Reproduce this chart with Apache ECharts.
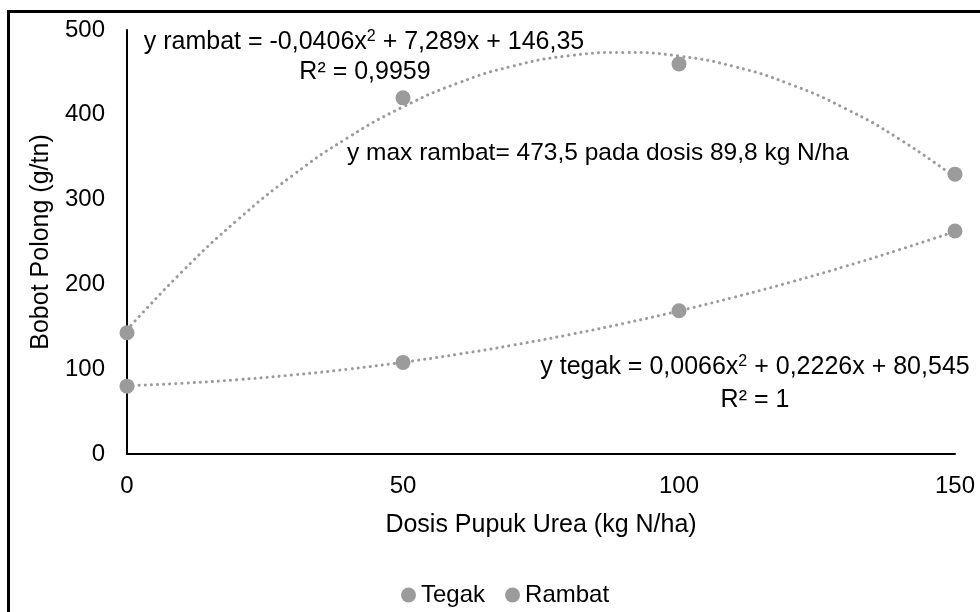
<!DOCTYPE html>
<html>
<head>
<meta charset="utf-8">
<script src="https://cdn.jsdelivr.net/npm/echarts@6/dist/echarts.min.js"></script>
<style>html,body{margin:0;padding:0;background:#fff}#c{width:980px;height:612px}</style>
</head>
<body>
<div id="c"></div>
<script>
// Data
var doses = [0, 50, 100, 150];
var tegak = [80, 108, 169, 263];
var rambat = [143, 420, 460, 330];
// Trendlines at regular dose steps
var trendX = [0, 10, 20, 30, 40, 50, 60, 70, 80, 90, 100, 110, 120, 130, 140, 150];
var trendTegak = [80.5, 83.4, 87.6, 93.2, 100.0, 108.2, 117.7, 128.5, 140.6, 154.0, 168.8, 184.9, 202.3, 221.0, 241.1, 262.4];
var trendRambat = [146.4, 215.2, 275.9, 328.5, 373.0, 409.3, 437.5, 457.6, 469.6, 473.5, 469.3, 456.9, 436.4, 407.8, 371.1, 326.2];
var xTicks = [0, 50, 100, 150];
var yTicks = [0, 100, 200, 300, 400, 500];

var FONT = '"Liberation Sans", Arial, sans-serif';
var GRAY = '#9b9b9b';
function pairs(xs, ys){ return xs.map(function(x,i){ return [x, ys[i]]; }); }

var chart = echarts.init(document.getElementById('c'), null, {renderer:'canvas'});
var supRich = {
  n: {fontFamily: FONT, fontSize: 25, color: '#000'},
  s: {fontFamily: FONT, fontSize: 16, color: '#000', verticalAlign: 'top', padding: [0,0,11,0]}
};
chart.setOption({
  animation: false,
  backgroundColor: '#fff',
  textStyle: {fontFamily: FONT},
  grid: {left: 127, right: 25, top: 30, bottom: 158},
  legend: {
    data: ['Tegak', 'Rambat'],
    left: 396, top: 578,
    icon: 'circle', itemWidth: 15, itemHeight: 15, itemGap: 20,
    textStyle: {fontFamily: FONT, fontSize: 24, color: '#000'}
  },
  xAxis: {
    type: 'value', min: 0, max: 150, interval: 50,
    name: 'Dosis Pupuk Urea (kg N/ha)', nameLocation: 'middle', nameGap: 59,
    nameTextStyle: {fontFamily: FONT, fontSize: 25, color: '#000'},
    axisLine: {lineStyle: {color: '#000', width: 2}},
    axisTick: {show: false}, splitLine: {show: false},
    axisLabel: {fontFamily: FONT, fontSize: 24, color: '#000', margin: 20,
      formatter: function(v){ return xTicks.indexOf(v) >= 0 ? String(v) : ''; }}
  },
  yAxis: {
    type: 'value', min: 0, max: 500, interval: 100,
    name: 'Bobot Polong (g/tn)', nameLocation: 'middle', nameGap: 72,
    nameTextStyle: {fontFamily: FONT, fontSize: 25, color: '#000'},
    axisLine: {show: true, lineStyle: {color: '#000', width: 2}},
    axisTick: {show: false}, splitLine: {show: false},
    axisLabel: {fontFamily: FONT, fontSize: 24, color: '#000', margin: 22,
      formatter: function(v){ return yTicks.indexOf(v) >= 0 ? String(v) : ''; }}
  },
  series: [
    {name: 'trendTegak', type: 'line', smooth: true, showSymbol: false, silent: true,
      data: pairs(trendX, trendTegak), z: 1,
      lineStyle: {color: GRAY, width: 3, type: [0.1, 6], cap: 'round'}},
    {name: 'trendRambat', type: 'line', smooth: true, showSymbol: false, silent: true,
      data: pairs(trendX, trendRambat), z: 1,
      lineStyle: {color: GRAY, width: 3, type: [0.1, 6], cap: 'round'}},
    {name: 'Tegak', type: 'scatter', data: pairs(doses, tegak), symbolSize: 15, z: 3,
      itemStyle: {color: GRAY, opacity: 1}},
    {name: 'Rambat', type: 'scatter', data: pairs(doses, rambat), symbolSize: 15, z: 3,
      itemStyle: {color: GRAY, opacity: 1}}
  ],
  graphic: [
    {type: 'rect', shape: {x: 8.5, y: 11.5, width: 1100, height: 800}, silent: true,
      style: {fill: null, stroke: '#000', lineWidth: 3}, z: 100},
    {type: 'text', x: 364, y: 42, style: {
      text: '{n|y rambat = -0,0406x}{s|2}{n| + 7,289x + 146,35}',
      rich: supRich, align: 'center', verticalAlign: 'middle'}},
    {type: 'text', x: 365, y: 72, style: {text: 'R² = 0,9959', fontFamily: FONT, fontSize: 25,
      fill: '#000', align: 'center', verticalAlign: 'middle'}},
    {type: 'text', x: 347, y: 153, style: {text: 'y max rambat= 473,5 pada dosis 89,8 kg N/ha',
      fontFamily: FONT, fontSize: 24.5, fill: '#000', align: 'left', verticalAlign: 'middle'}},
    {type: 'text', x: 755, y: 367, style: {
      text: '{n|y tegak = 0,0066x}{s|2}{n| + 0,2226x + 80,545}',
      rich: supRich, align: 'center', verticalAlign: 'middle'}},
    {type: 'text', x: 755, y: 400, style: {text: 'R² = 1', fontFamily: FONT, fontSize: 25,
      fill: '#000', align: 'center', verticalAlign: 'middle'}}
  ]
});
</script>
</body>
</html>
